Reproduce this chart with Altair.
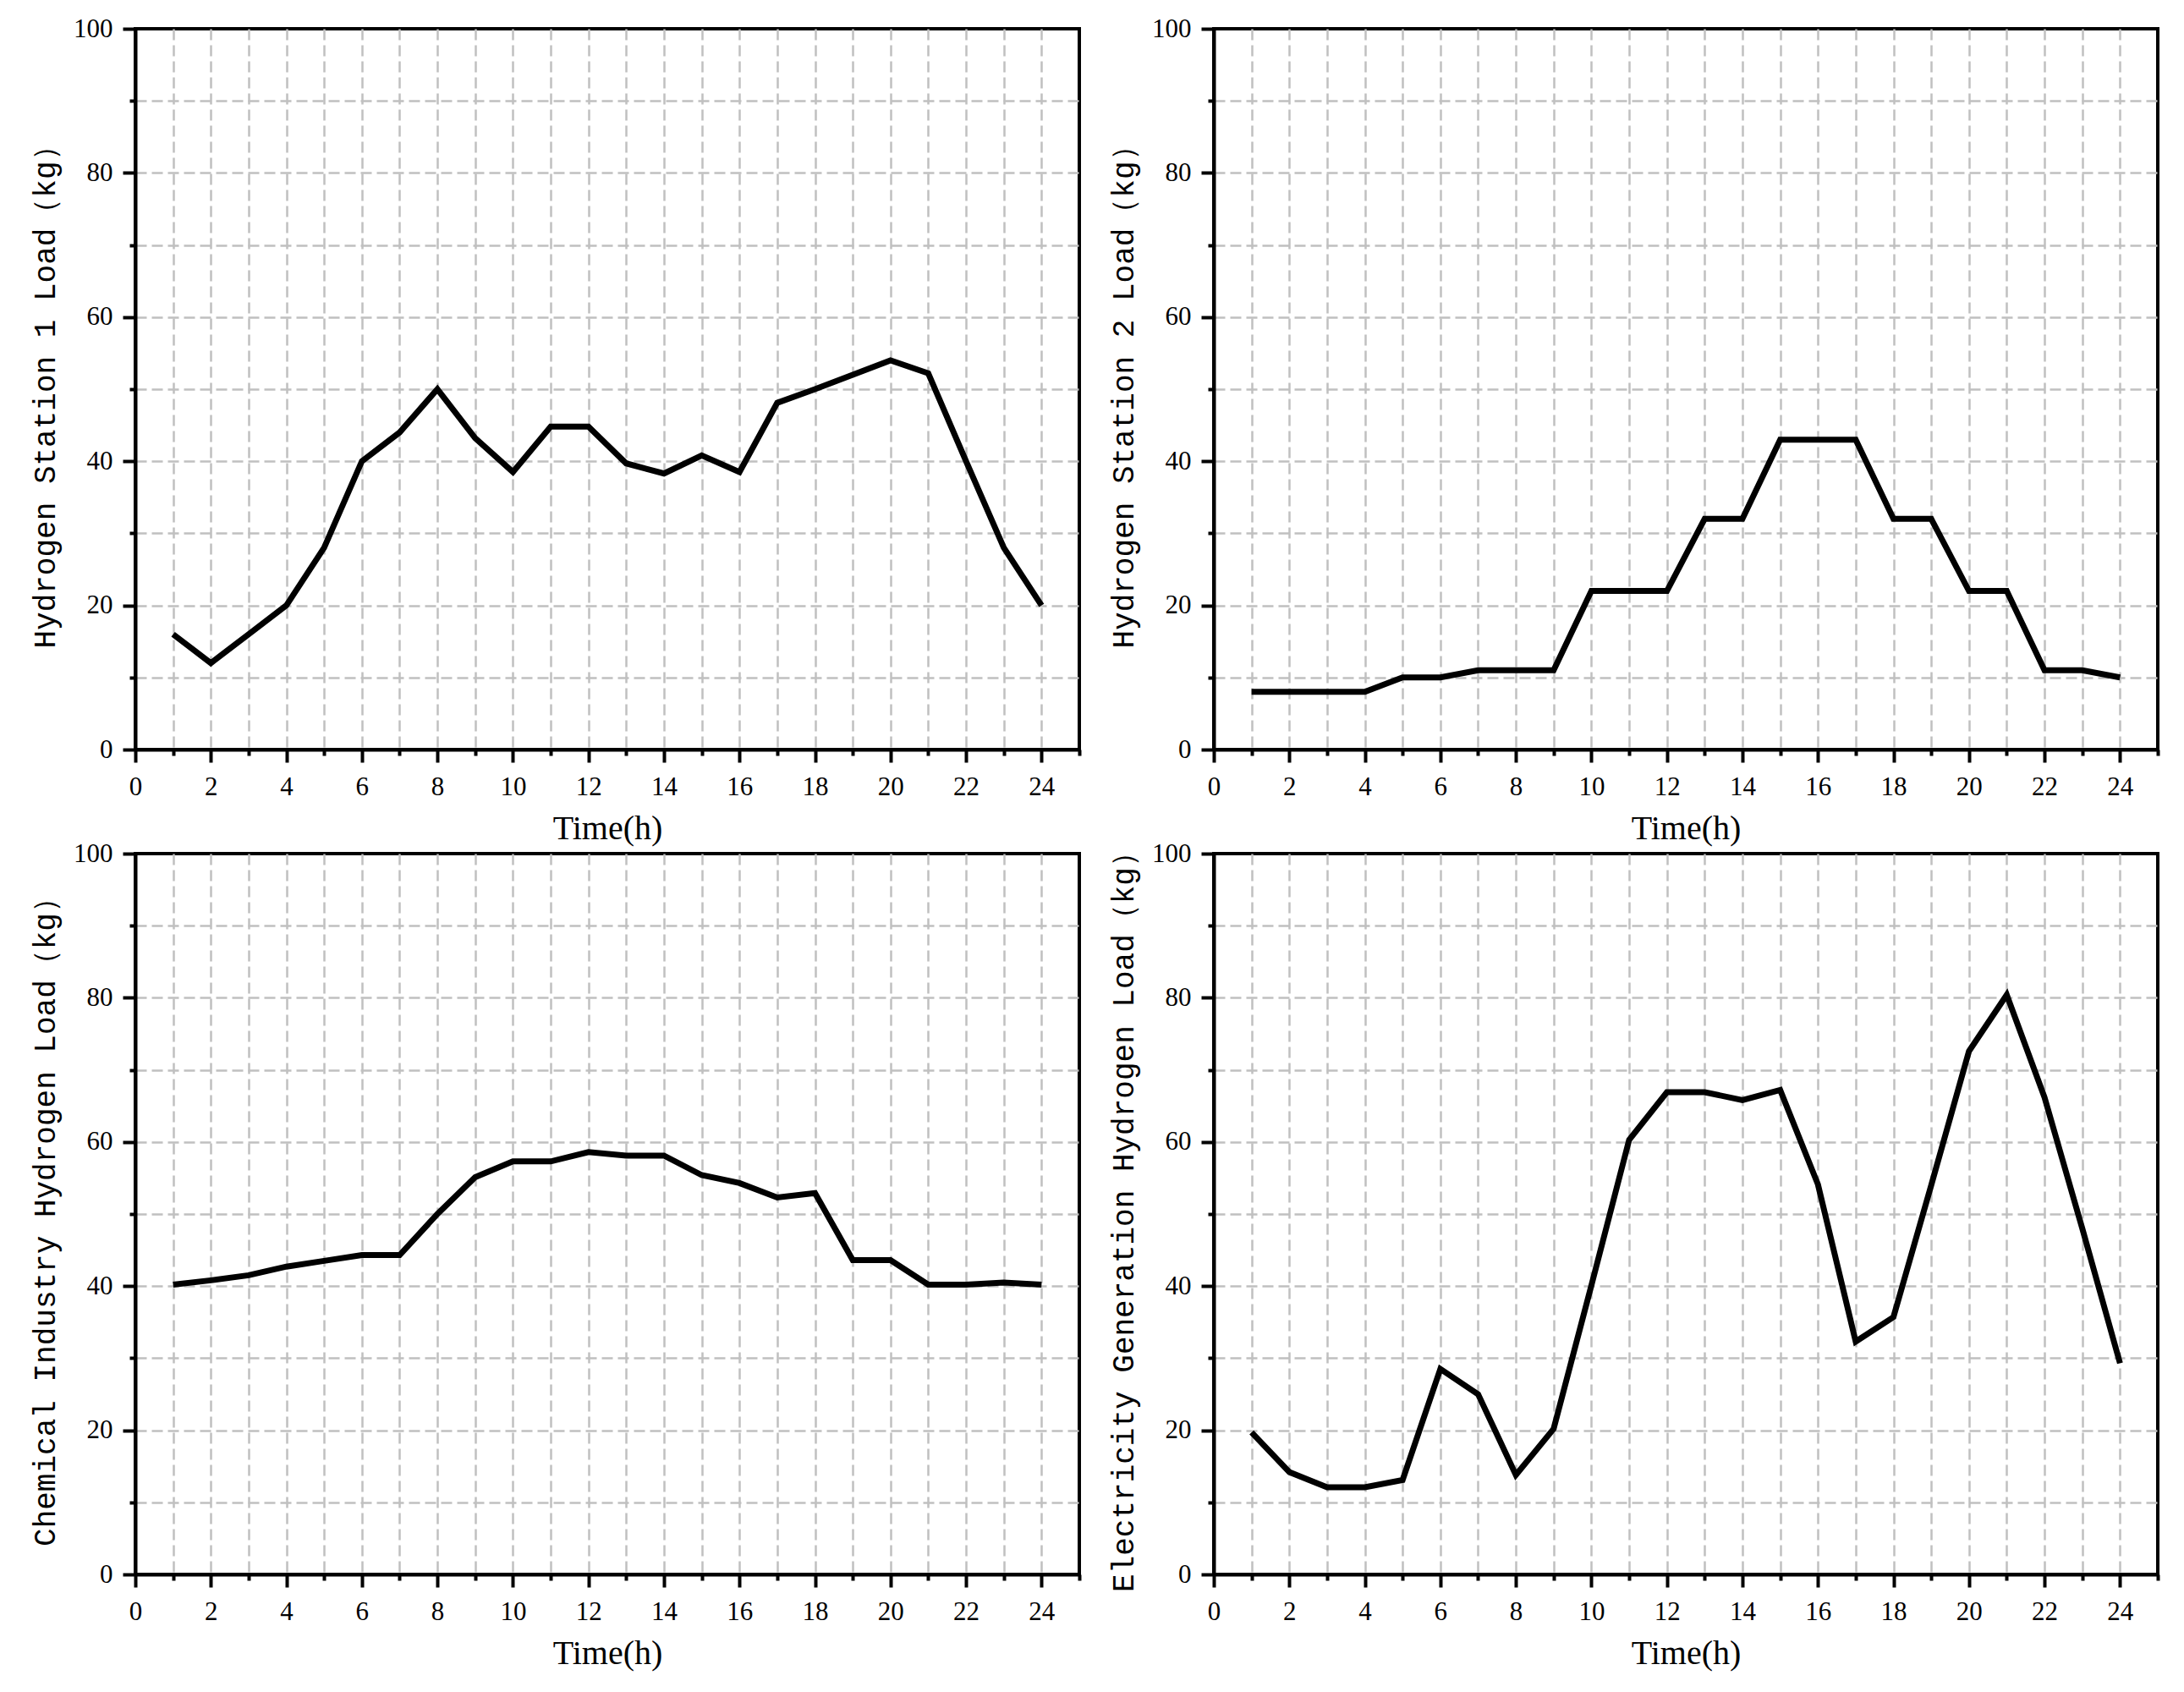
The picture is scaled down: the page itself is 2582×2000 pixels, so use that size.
import altair as alt
import pandas as pd

hours = list(range(1, 25))

station1 = [16, 12, 16, 20, 28, 40, 44, 50, 43.2, 38.5, 44.8, 44.8,
            39.7, 38.3, 40.8, 38.5, 48.1, 50, 52, 54, 52.2, 40, 28, 20]
station2 = [8, 8, 8, 8, 10, 10, 11, 11, 11, 22, 22, 22,
            32, 32, 43, 43, 43, 32, 32, 22, 22, 11, 11, 10]
chemical = [40.2, 40.8, 41.5, 42.7, 43.5, 44.3, 44.3, 50, 55.1, 57.3, 57.3, 58.6,
            58.1, 58.1, 55.4, 54.3, 52.3, 52.9, 43.6, 43.6, 40.2, 40.2, 40.5, 40.2]
electricity = [19.7, 14.2, 12.1, 12.1, 13.1, 28.5, 25.0, 13.8, 20.2, 40.1, 60.3, 66.9,
               66.9, 65.8, 67.2, 54.1, 32.3, 35.7, 54, 72.6, 80.4, 66.2, 48, 29.3]

y_titles = [
    "Hydrogen Station 1 Load（kg）",
    "Hydrogen Station 2 Load（kg）",
    "Chemical Industry Hydrogen Load（kg）",
    "Electricity Generation Hydrogen Load（kg）",
]
x_title = "Time(h)"
x_tick_values = list(range(0, 26))
y_tick_values = list(range(0, 101, 10))

PW, PH = 1116, 852

common_axis = dict(
    labelFont="Liberation Serif",
    labelFontSize=31,
    labelColor="black",
    labelFlush=False,
    labelOverlap=False,
    titleFontWeight="normal",
    titleColor="black",
    domainColor="black",
    domainWidth=4,
    tickColor="black",
    tickWidth=4,
    gridColor="#c0c0c0",
    gridDash=[13, 6],
    gridWidth=2.5,
)


def panel(values, ytitle):
    df = pd.DataFrame({"hour": hours, "load": values})
    x_axis = alt.Axis(
        values=x_tick_values,
        title=x_title,
        titleFont="Liberation Serif",
        titleFontSize=40,
        titlePadding=14,
        labelExpr="datum.value % 2 == 0 ? datum.label : ''",
        labelPadding=14,
        tickSize={"condition": {"test": "datum.value % 2 == 0", "value": 15}, "value": 7},
        gridOpacity={"condition": {"test": "datum.value == 0 || datum.value == 25", "value": 0}, "value": 1},
        **common_axis,
    )
    y_axis = alt.Axis(
        values=y_tick_values,
        title=ytitle,
        titleFont="Liberation Mono",
        titleFontSize=36,
        titlePadding=14,
        labelExpr="datum.value % 20 == 0 ? datum.label : ''",
        labelPadding=12,
        tickSize={"condition": {"test": "datum.value % 20 == 0", "value": 15}, "value": 7},
        gridOpacity={"condition": {"test": "datum.value == 0 || datum.value == 100", "value": 0}, "value": 1},
        **common_axis,
    )
    return (
        alt.Chart(df)
        .mark_line(color="black", strokeWidth=7, strokeJoin="miter")
        .encode(
            x=alt.X("hour:Q", scale=alt.Scale(domain=[0, 25], nice=False, zero=False), axis=x_axis),
            y=alt.Y("load:Q", scale=alt.Scale(domain=[0, 100], nice=False), axis=y_axis),
        )
        .properties(width=PW, height=PH)
    )


p1 = panel(station1, y_titles[0])
p2 = panel(station2, y_titles[1])
p3 = panel(chemical, y_titles[2])
p4 = panel(electricity, y_titles[3])

chart = (
    alt.concat(p1, p2, p3, p4, columns=2, spacing={"row": 123, "column": 159}, bounds="flush")
    .properties(padding={"left": 25, "top": 8, "right": 10, "bottom": 10})
    .configure_view(stroke="black", strokeWidth=4)
)

chart.save("out.html", embed_options={"renderer": "svg", "actions": False})
